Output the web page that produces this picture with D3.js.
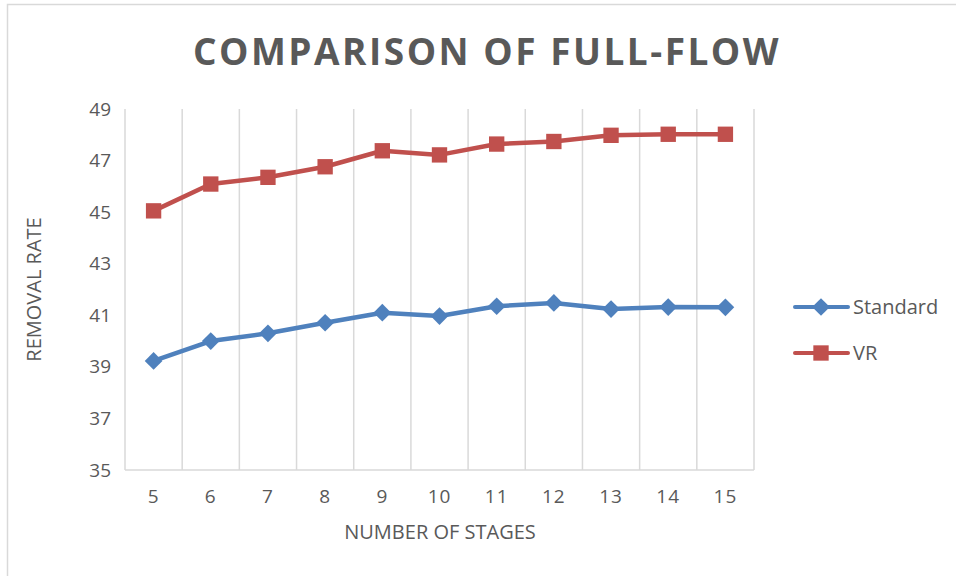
<!DOCTYPE html>
<html>
<head>
<meta charset="utf-8">
<script src="https://cdn.jsdelivr.net/npm/d3@7"></script>
<style>
  html, body { margin: 0; padding: 0; background: #fff; }
  svg { display: block; }
</style>
</head>
<body>
<svg id="chart" width="956" height="576"></svg>
<script>
// Stage counts along the x axis
const stages = [5, 6, 7, 8, 9, 10, 11, 12, 13, 14, 15];
// Removal rate for each configuration
const standardValues = [39.23, 40.0, 40.3, 40.71, 41.1, 40.97, 41.35, 41.48, 41.24, 41.32, 41.31];
const vrValues = [45.05, 46.09, 46.35, 46.76, 47.38, 47.22, 47.64, 47.74, 47.98, 48.02, 48.02];
const yTicks = [35, 37, 39, 41, 43, 45, 47, 49];
const seriesNames = ["Standard", "VR"];

const svg = d3.select("#chart");
const font = "'Open Sans', 'Liberation Sans', sans-serif";
const textColor = "#595959";
const gridColor = "#d9d9d9";

// chart border (top and left edges visible)
svg.append("rect")
  .attr("x", 7.5).attr("y", 4.5)
  .attr("width", 1000).attr("height", 1000)
  .attr("fill", "none").attr("stroke", gridColor).attr("stroke-width", 1.5);

const plot = { left: 125, right: 754, top: 109, bottom: 470 };

const x = d3.scaleBand().domain(stages).range([plot.left, plot.right]).paddingInner(0).paddingOuter(0);
const y = d3.scaleLinear().domain([35, 49]).range([plot.bottom, plot.top]);

// vertical gridlines at category boundaries
const bounds = stages.map(s => x(s)).concat([plot.right]);
svg.append("g").selectAll("line").data(bounds).join("line")
  .attr("x1", d => d).attr("x2", d => d)
  .attr("y1", plot.top).attr("y2", plot.bottom)
  .attr("stroke", gridColor).attr("stroke-width", 1.5);

// bottom axis line
svg.append("line")
  .attr("x1", plot.left).attr("x2", plot.right)
  .attr("y1", plot.bottom).attr("y2", plot.bottom)
  .attr("stroke", gridColor).attr("stroke-width", 1.5);

// x axis labels
const xAxis = d3.axisBottom(x).tickSize(0).tickPadding(20);
const gx = svg.append("g").attr("transform", `translate(0,${plot.bottom})`).call(xAxis);
gx.select(".domain").remove();
gx.selectAll("text").attr("font-family", font).attr("font-size", 19)
  .attr("letter-spacing", 1).attr("fill", textColor);

// y axis labels
const yAxis = d3.axisLeft(y).tickValues(yTicks).tickSize(0).tickPadding(14);
const gy = svg.append("g").attr("transform", `translate(${plot.left},0)`).call(yAxis);
gy.select(".domain").remove();
gy.selectAll("text").attr("font-family", font).attr("font-size", 19).attr("fill", textColor);

// title
svg.append("text")
  .attr("x", 487).attr("y", 65)
  .attr("text-anchor", "middle")
  .attr("font-family", font).attr("font-weight", "bold")
  .attr("font-size", 37).attr("letter-spacing", 2.5)
  .attr("fill", textColor)
  .text("COMPARISON OF FULL-FLOW");

// axis titles
svg.append("text")
  .attr("x", 440).attr("y", 539)
  .attr("text-anchor", "middle")
  .attr("font-family", font).attr("font-size", 20).attr("fill", textColor)
  .text("NUMBER OF STAGES");

svg.append("text")
  .attr("transform", `translate(41,${(plot.top + plot.bottom) / 2}) rotate(-90)`)
  .attr("text-anchor", "middle")
  .attr("font-family", font).attr("font-size", 20).attr("fill", textColor)
  .text("REMOVAL RATE");

const series = [
  { name: seriesNames[0], values: standardValues, color: "#4f81bd", shape: d3.symbolDiamond2, size: 200 },
  { name: seriesNames[1], values: vrValues, color: "#c0504d", shape: d3.symbolSquare2, size: 300 }
];

const cx = s => x(s) + x.bandwidth() / 2;
const line = d3.line().x((d, i) => cx(stages[i])).y(d => y(d));

series.forEach(s => {
  svg.append("path")
    .datum(s.values)
    .attr("d", line)
    .attr("fill", "none")
    .attr("stroke", s.color)
    .attr("stroke-width", 4.5)
    .attr("stroke-linejoin", "round");
  svg.append("g").selectAll("path").data(s.values).join("path")
    .attr("transform", (d, i) => `translate(${cx(stages[i])},${y(d)})`)
    .attr("d", d3.symbol().type(s.shape).size(s.size))
    .attr("fill", s.color);
});

// legend
const legend = svg.append("g");
series.forEach((s, i) => {
  const ly = 307 + i * 46;
  legend.append("line")
    .attr("x1", 795).attr("x2", 848).attr("y1", ly).attr("y2", ly)
    .attr("stroke", s.color).attr("stroke-width", 4).attr("stroke-linecap", "round");
  legend.append("path")
    .attr("transform", `translate(821,${ly})`)
    .attr("d", d3.symbol().type(s.shape).size(s.size))
    .attr("fill", s.color);
  legend.append("text")
    .attr("x", 853).attr("y", ly).attr("dy", "0.35em")
    .attr("font-family", font).attr("font-size", 20).attr("fill", textColor)
    .text(s.name);
});
</script>
</body>
</html>
